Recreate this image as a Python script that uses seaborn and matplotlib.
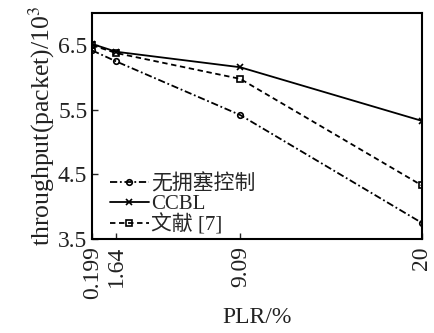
import numpy as np
import pandas as pd
import matplotlib
matplotlib.use('Agg')
import matplotlib.pyplot as plt
import seaborn as sb

# dati
plr = [0.199, 1.64, 9.09, 20]
no_cc = [6.42, 6.25, 5.42, 3.75]
ccbl = [6.52, 6.40, 6.16, 5.33]
ref7 = [6.50, 6.38, 5.98, 4.33]
names = ['无拥塞控制', 'CCBL', '文献 [7]']
yticks = [3.5, 4.5, 5.5, 6.5]

sb.set_style('ticks')
plt.rcParams['font.family'] = ['Liberation Serif', 'Noto Sans CJK SC']
plt.rcParams['mathtext.fontset'] = 'stix'
plt.rcParams['xtick.direction'] = 'in'
plt.rcParams['ytick.direction'] = 'in'

fig, ax = plt.subplots(figsize=(4.35, 3.33), dpi=100)

styles = [
    (no_cc, (0, (4, 1.5, 1, 1.5)), 'o'),
    (ccbl, '-', 'x'),
    (ref7, (0, (3, 2)), 's'),
]
for (vals, ls, mk), name in zip(styles, names):
    df = pd.DataFrame({'PLR': plr, 'val': vals})
    sb.lineplot(data=df, x='PLR', y='val', ax=ax, color='black', linestyle=ls,
                marker=mk, markersize=4, markerfacecolor='none',
                markeredgecolor='black', markeredgewidth=1.2, linewidth=1.3,
                label=name)

ax.set_xlim(0.199, 20)
ax.set_ylim(3.5, 7.0)
ax.set_xticks(plr)
ax.set_xticklabels(['0.199', '1.64', '9.09', '20'], rotation=90)
ax.set_yticks(yticks)
ax.set_yticklabels([str(v) for v in yticks])
ax.tick_params(labelsize=17, length=4, width=1, labelcolor='#222222')
ax.tick_params(axis='x', pad=5)
for s in ax.spines.values():
    s.set_visible(True)
    s.set_linewidth(1.5)
    s.set_color('black')

ax.set_xlabel('PLR/%', fontsize=17, labelpad=6, color='#222222')
ax.set_ylabel(r'throughput(packet)/10$^3$', fontsize=18.5, labelpad=1, color='#222222')
ax.legend(loc='lower left', frameon=False, fontsize=15, handlelength=1.9,
          handletextpad=0.1, labelspacing=0.0, borderaxespad=0.2,
          bbox_to_anchor=(0.015, -0.04))

plt.subplots_adjust(left=0.212, right=0.97, top=0.961, bottom=0.282)
plt.savefig('out.png', dpi=100)
